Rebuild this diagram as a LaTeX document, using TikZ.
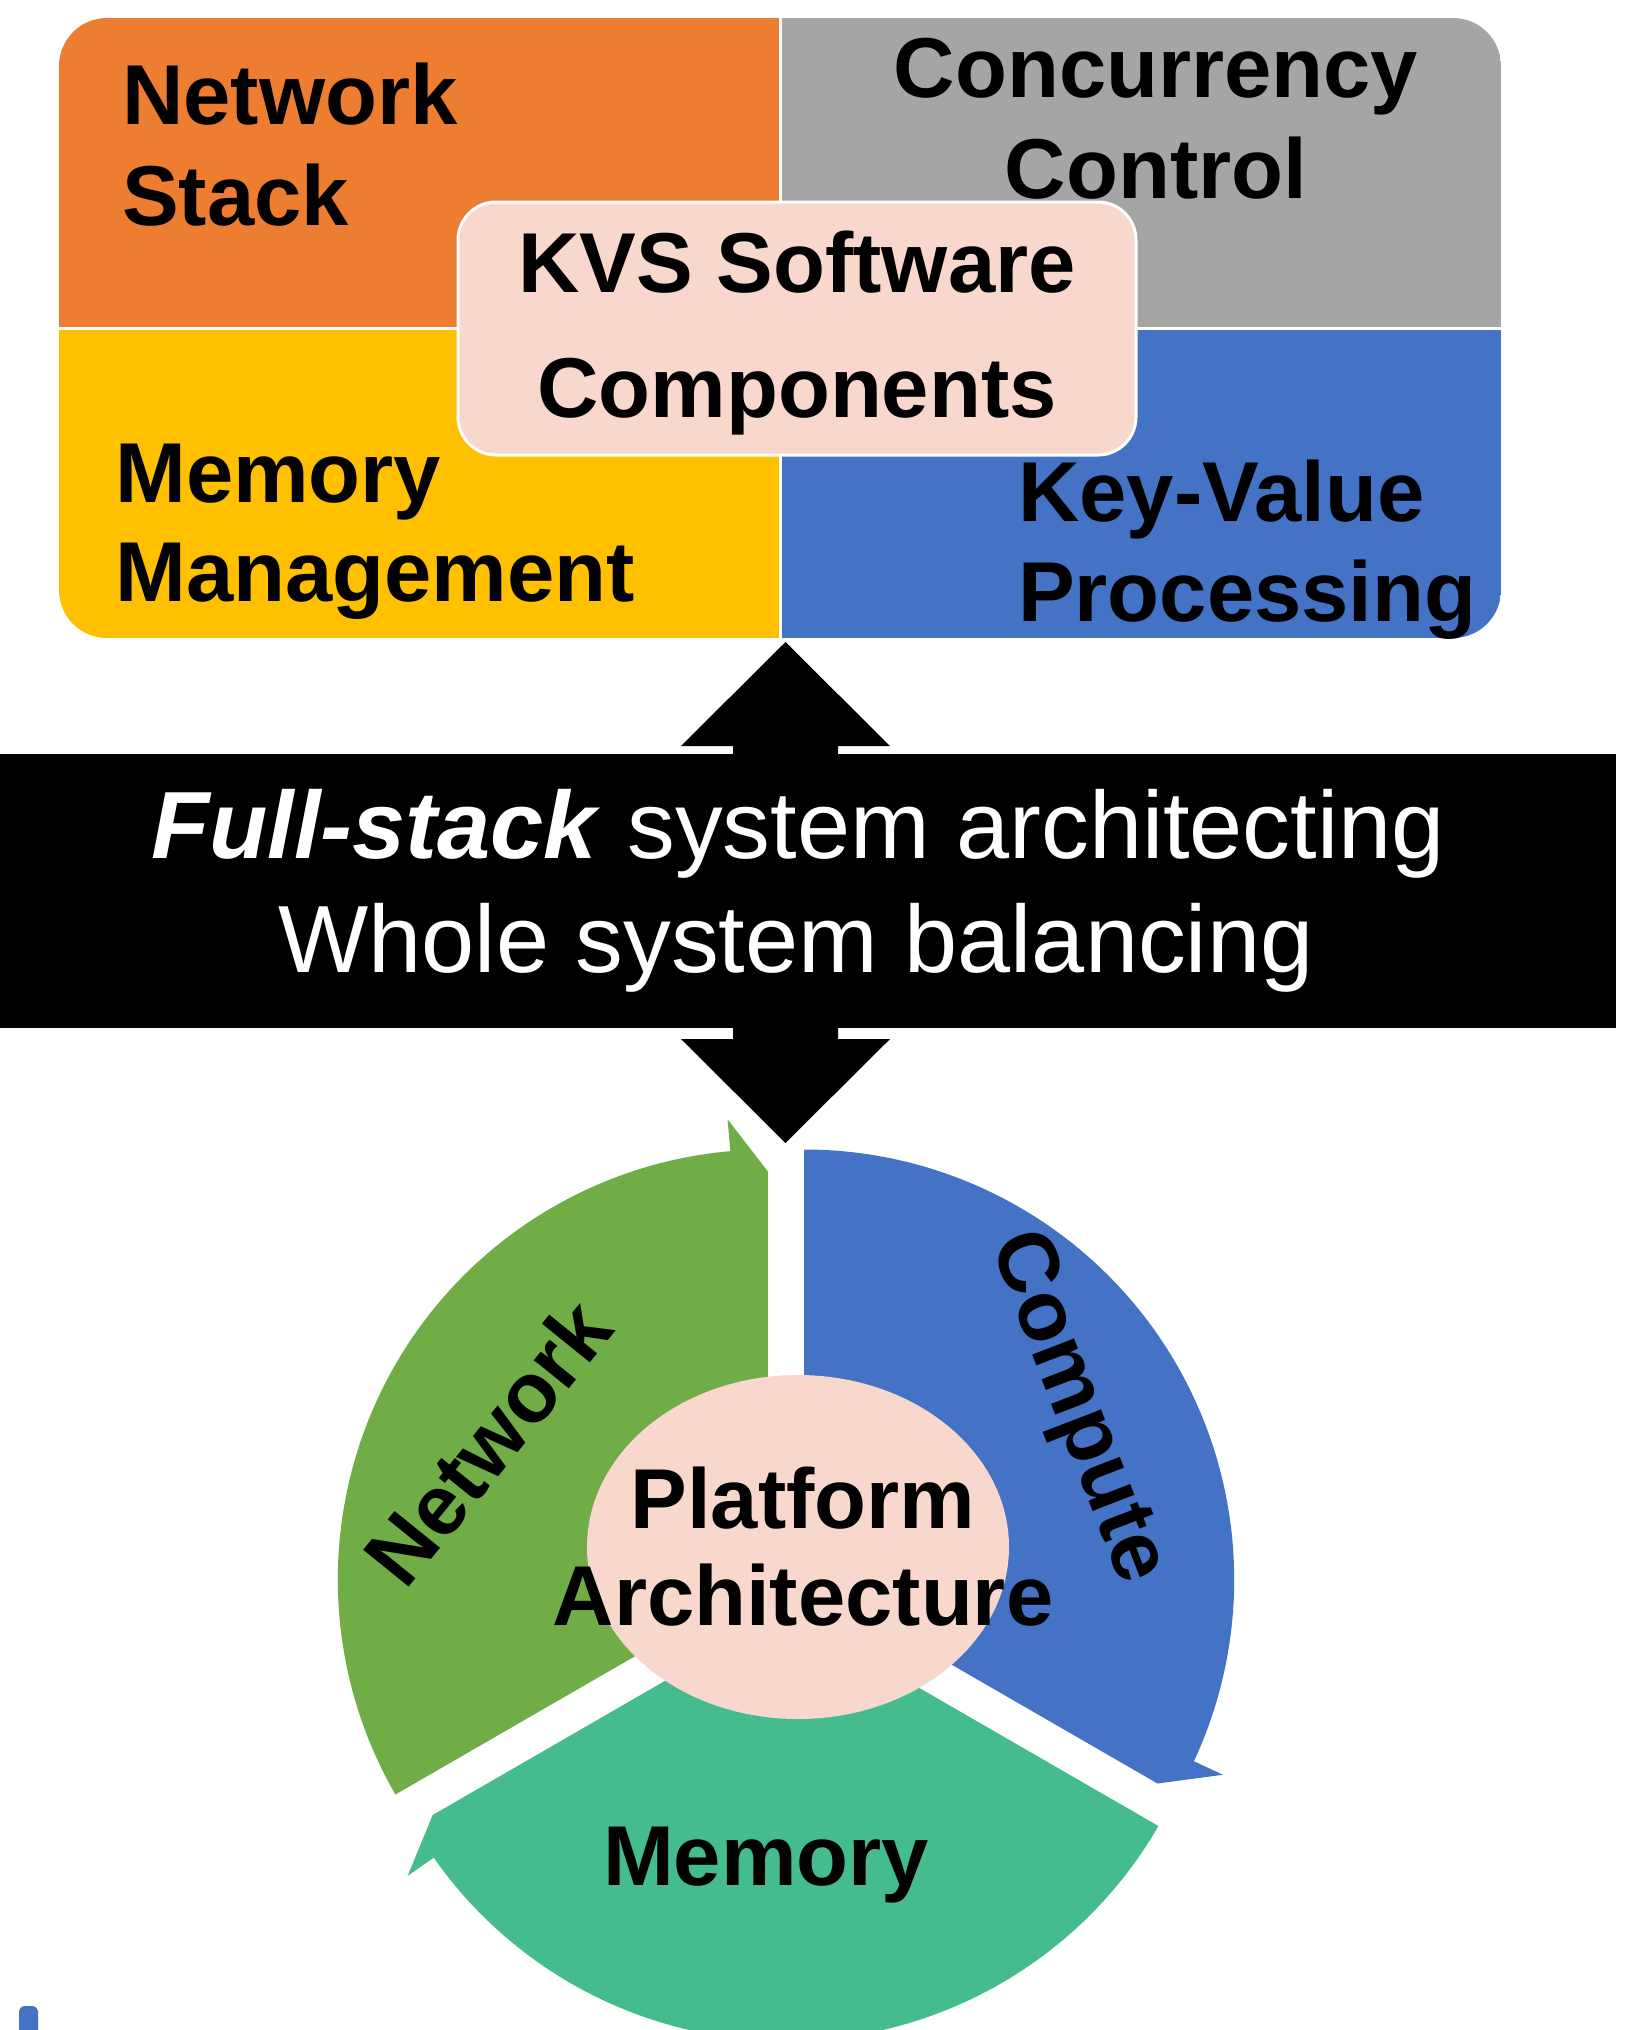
\documentclass[tikz,border=0pt]{standalone}
\usepackage{fontspec}
\setmainfont{Liberation Sans}
\usetikzlibrary{shapes.geometric}
\definecolor{cOrange}{HTML}{ED7D31}
\definecolor{cGray}{HTML}{A5A5A5}
\definecolor{cYellow}{HTML}{FFC000}
\definecolor{cBlue}{HTML}{4472C4}
\definecolor{cPink}{HTML}{F8D7CC}
\definecolor{cGreen}{HTML}{70AD47}
\definecolor{cMint}{HTML}{45BC8D}
\tikzset{
  lbl/.style={inner sep=0pt, font=\fontsize{85pt}{100pt}\selectfont\bfseries, text=black},
  bandtxt/.style={inner sep=0pt, font=\fontsize{95.5pt}{114pt}\selectfont, text=white},
  kvsbox/.style={rounded corners=38pt, fill=cPink, draw=white, line width=3pt,
    minimum width=678pt, minimum height=253pt, inner sep=0pt},
  platformbox/.style={ellipse, fill=cPink, minimum width=422pt, minimum height=344pt, inner sep=0pt},
  bandbox/.style={fill=black, minimum width=1616pt, minimum height=274pt, inner sep=0pt, anchor=north west},
  divider/.style={white, line width=3pt},
}
\begin{document}
\begin{tikzpicture}[x=1pt, y=-1pt]
\useasboundingbox (0,0) rectangle (1650,2030);
\fill[white] (0,0) rectangle (1650,2030);

% ---- top block: KVS software components ----
\begin{scope}
  \clip[rounded corners=48pt] (59,18) rectangle (1501,638);
  \fill[cOrange] (59,18) rectangle (780,328);
  \fill[cGray] (780,18) rectangle (1501,328);
  \fill[cYellow] (59,328) rectangle (780,638);
  \fill[cBlue] (780,328) rectangle (1501,638);
  \draw[divider] (780,18) -- (780,638);
  \draw[divider] (59,328) -- (1501,328);
\end{scope}

\node[lbl, anchor=base west] (ns1) at (122,124) {Network};
\node[lbl, anchor=base west] (ns2) at (122,225) {Stack};
\node[lbl, anchor=base] (cc1) at (1156,97) {Concurrency};
\node[lbl, anchor=base] (cc2) at (1156,198) {Control};
\node[lbl, anchor=base west] (mm1) at (115,502) {Memory};
\node[lbl, anchor=base west] (mm2) at (115,601) {Management};
\node[lbl, anchor=base west] (kv1) at (1018,521) {Key-Value};
\node[lbl, anchor=base west] (kv2) at (1018,621) {Processing};

\node[kvsbox] (kvs) at (797,328.5) {};
\node[lbl, anchor=base] (kvs1) at (797,292) {KVS Software};
\node[lbl, anchor=base] (kvs2) at (797,417) {Components};

% ---- double arrow and band ----
\fill[black] (785.5,642) -- (890,746) -- (838,746) -- (838,1039) -- (890,1039)
  -- (785.5,1143) -- (681,1039) -- (733,1039) -- (733,746) -- (681,746) -- cycle;
\node[bandbox] (band) at (0,754) {};
\node[bandtxt, anchor=base] (band1) at (798,858) {\textbf{\textit{Full-stack}} system architecting};
\node[bandtxt, anchor=base] (band2) at (796,972) {Whole system balancing};

% ---- segmented cycle ----
\begin{scope}[shift={(786pt,-1590pt)}, x=1pt, y=1pt]
  \fill[cGreen, shift={(150:21)}] (0,0) -- (210:430) arc[start angle=210, end angle=95, radius=430]
    -- (95:462) -- (90:408) -- cycle;
  \fill[cBlue, shift={(30:21)}] (0,0) -- (90:430) arc[start angle=90, end angle=-25, radius=430]
    -- (-25:462) -- (-30:408) -- cycle;
  \fill[cMint, shift={(-90:21)}] (0,0) -- (-30:430) arc[start angle=-30, end angle=-145, radius=430]
    -- (-145:462) -- (-150:408) -- cycle;
\end{scope}

\node[platformbox] (plat) at (798,1547) {};
\node[lbl, anchor=base] (plat1) at (803,1528) {Platform};
\node[lbl, anchor=base] (plat2) at (803,1625) {Architecture};
\node[lbl, rotate=51, text depth=0pt, anchor=center] (netlbl) at (487,1442) {Network};
\node[lbl, rotate=-69, text depth=0pt, anchor=center] (complbl) at (1084,1405) {Compute};
\node[lbl, anchor=base] (memlbl) at (766,1885) {Memory};

% small mark at lower left
\fill[cBlue, rounded corners=6pt] (19,2040) rectangle (38,2006);
\end{tikzpicture}
\end{document}
